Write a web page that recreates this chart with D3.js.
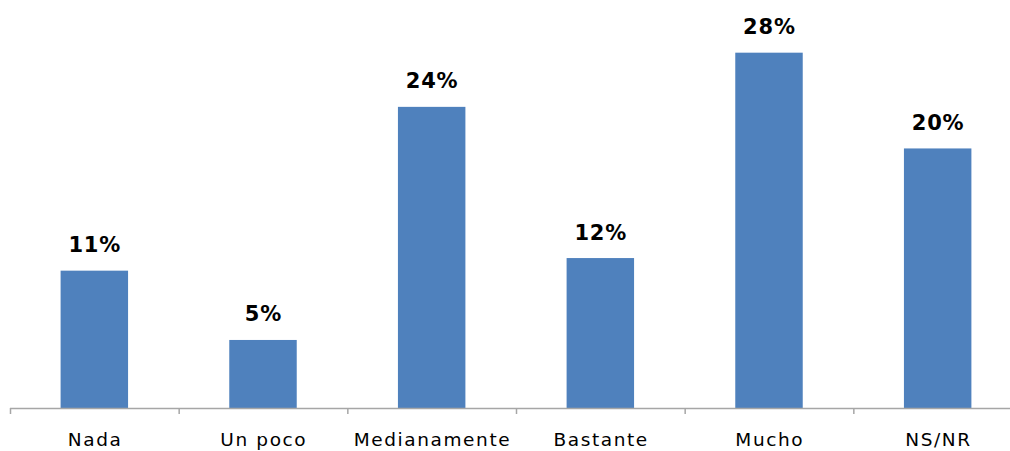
<!DOCTYPE html>
<html><head><meta charset="utf-8">
<script src="https://cdn.jsdelivr.net/npm/d3@7"></script>
<style>body{margin:0;background:#fff;} svg{display:block;}</style>
</head><body>
<svg id="chart" width="1010" height="451"></svg>
<script>
const categories = ["Nada","Un poco","Medianamente","Bastante","Mucho","NS/NR"];
const values = [10.9, 5.4, 23.9, 11.9, 28.2, 20.6];
const labels = ["11%","5%","24%","12%","28%","20%"];

const svg = d3.select("#chart");
const baseY = 408;
const x = d3.scaleBand().domain(categories).range([10, 1022]).paddingInner(0.6).paddingOuter(0.3);
const y = d3.scaleLinear().domain([0, 30]).range([baseY, baseY - 30*12.6]);
const font = "'DejaVu Sans', Verdana, sans-serif";

svg.selectAll("rect.bar").data(categories).enter().append("rect")
  .attr("class","bar")
  .attr("x", d => x(d))
  .attr("width", x.bandwidth())
  .attr("y", (d,i) => y(values[i]))
  .attr("height", (d,i) => baseY - y(values[i]))
  .attr("fill", "#4f81bd");

const valSpacing = 0.8;
svg.selectAll("text.val").data(categories).enter().append("text")
  .attr("class","val")
  .attr("x", d => x(d) + x.bandwidth()/2 + valSpacing/2)
  .attr("y", (d,i) => y(values[i]) - 18.5)
  .attr("text-anchor","middle")
  .attr("font-family", font).attr("font-weight","bold").attr("font-size","21px")
  .attr("letter-spacing", valSpacing)
  .attr("fill","#000")
  .text((d,i) => labels[i]);

// axis
const bandStep = x.step();
const ticks = d3.range(0, 7).map(i => 10 + i*bandStep);
svg.append("line").attr("x1",10).attr("x2",1010).attr("y1",baseY+0.5).attr("y2",baseY+0.5)
  .attr("stroke","#a6a6a6").attr("stroke-width",1.5);
svg.selectAll("line.tick").data(ticks).enter().append("line").attr("class","tick")
  .attr("x1",d=>d+0.5).attr("x2",d=>d+0.5).attr("y1",baseY).attr("y2",baseY+6)
  .attr("stroke","#a6a6a6").attr("stroke-width",1.5);

const catSpacing = 1.6;
svg.selectAll("text.cat").data(categories).enter().append("text")
  .attr("class","cat")
  .attr("x", d => x(d) + x.bandwidth()/2 + catSpacing/2)
  .attr("y", 446)
  .attr("text-anchor","middle")
  .attr("font-family", font).attr("font-size","18.5px")
  .attr("letter-spacing", catSpacing)
  .attr("fill","#000")
  .text(d => d);
</script>
</body></html>
